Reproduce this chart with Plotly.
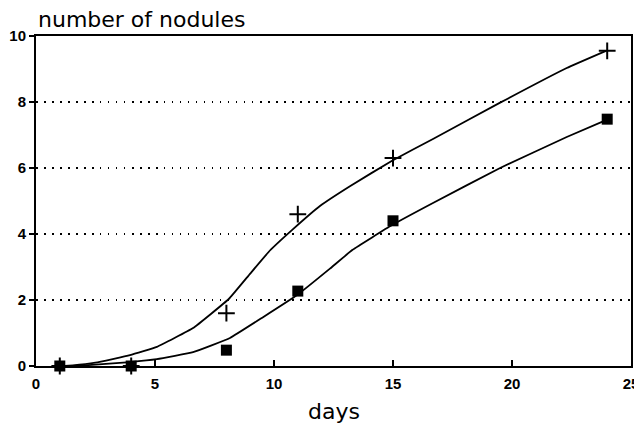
import plotly.graph_objects as go

# observed data points
days = [1, 4, 8, 11, 15, 24]
nodules_plus = [0, 0, 1.6, 4.6, 6.3, 9.55]
nodules_square = [0, 0, 0.48, 2.27, 4.4, 7.48]

# fitted curves
curve_plus_x = [1.0, 1.55, 2.5, 3.95, 5.08, 6.6, 8.1, 9.0, 9.83, 10.8, 11.93, 13.19, 14.96, 16.68, 19.5, 22.3, 23.95]
curve_plus_y = [0.0, 0.02, 0.1, 0.33, 0.58, 1.15, 2.03, 2.8, 3.5, 4.15, 4.85, 5.45, 6.22, 6.88, 7.98, 9.03, 9.55]
curve_square_x = [1.0, 1.55, 2.5, 3.95, 5.08, 6.6, 8.15, 9.54, 10.97, 12.35, 13.3, 14.96, 16.68, 19.5, 22.3, 23.95]
curve_square_y = [0.0, 0.0, 0.04, 0.12, 0.21, 0.42, 0.85, 1.48, 2.15, 2.95, 3.52, 4.27, 4.94, 6.0, 6.94, 7.45]

x_ticks = [0, 5, 10, 15, 20, 25]
y_ticks = [0, 2, 4, 6, 8, 10]

fig = go.Figure()
fig.add_trace(go.Scatter(x=curve_plus_x, y=curve_plus_y, mode="lines",
                         line=dict(color="black", width=1.8, shape="spline", smoothing=0.3),
                         hoverinfo="skip", showlegend=False))
fig.add_trace(go.Scatter(x=curve_square_x, y=curve_square_y, mode="lines",
                         line=dict(color="black", width=1.8, shape="spline", smoothing=0.3),
                         hoverinfo="skip", showlegend=False))
fig.add_trace(go.Scatter(x=days, y=nodules_plus, mode="markers", cliponaxis=False,
                         marker=dict(symbol="cross-thin", size=12, color="black",
                                     line=dict(color="black", width=2)),
                         showlegend=False))
fig.add_trace(go.Scatter(x=days, y=nodules_square, mode="markers", cliponaxis=False,
                         marker=dict(symbol="square", size=11, color="black"),
                         showlegend=False))

# page body has an 8px default margin, so the figure is sized/offset to compensate
fig.update_layout(
    width=634, height=417,
    margin=dict(l=28, r=11, t=28, b=59),
    paper_bgcolor="white", plot_bgcolor="white",
    font=dict(family="Liberation Sans", color="black"),
    annotations=[
        dict(text="number of nodules", x=0, xref="paper", xanchor="left", xshift=0,
             y=1, yref="paper", yanchor="bottom", yshift=2, showarrow=False,
             font=dict(family="DejaVu Sans", size=22, color="black")),
        dict(text="days", x=0.5, xref="paper", xanchor="center",
             y=0, yref="paper", yanchor="middle", yshift=-45, showarrow=False,
             font=dict(family="DejaVu Sans", size=22, color="black")),
    ],
)
fig.update_xaxes(
    range=[0, 25], tickvals=x_ticks, ticktext=[str(v) for v in x_ticks],
    ticks="inside", ticklen=6, tickwidth=1.5, tickcolor="black",
    showline=True, linecolor="black", linewidth=2, mirror=True,
    showgrid=False, zeroline=False, ticklabelstandoff=3, automargin=False,
    tickfont=dict(family="Liberation Sans", size=15, weight="bold"),
)
fig.update_yaxes(
    range=[0, 10], tickvals=y_ticks, ticktext=[str(v) for v in y_ticks],
    ticks="outside", ticklen=5, tickwidth=1.5, tickcolor="black",
    showline=True, linecolor="black", linewidth=2, mirror=True,
    showgrid=True, gridcolor="black", gridwidth=1.5, griddash="1.5px,6.5px",
    zeroline=False, automargin=False,
    tickfont=dict(family="Liberation Sans", size=15, weight="bold"),
)

fig.write_html("out.html")
